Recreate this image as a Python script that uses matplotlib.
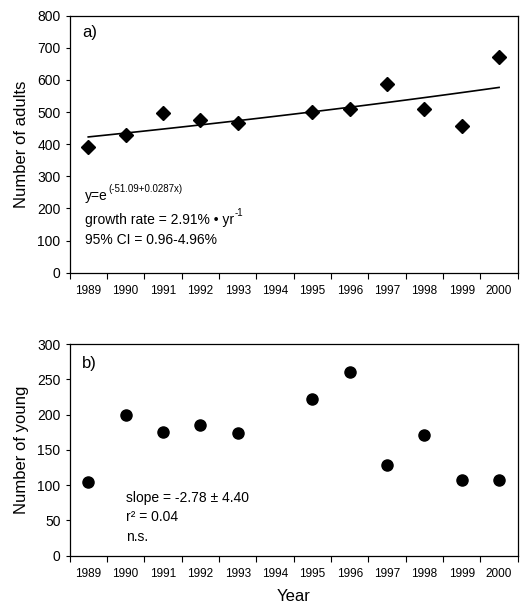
import numpy as np
import matplotlib
matplotlib.use("Agg")
import matplotlib.pyplot as plt

plt.rcParams['font.family'] = ['Liberation Sans', 'DejaVu Sans']

# x axis categories (1994 has no data)
year_labels = ['1989', '1990', '1991', '1992', '1993', '1994',
               '1995', '1996', '1997', '1998', '1999', '2000']
years = [1989, 1990, 1991, 1992, 1993, 1995, 1996, 1997, 1998, 1999, 2000]

adults = [392, 429, 496, 474, 465, 500, 511, 586, 509, 458, 673]
young = [104, 200, 176, 186, 174, 222, 261, 128, 171, 108, 108]

x = np.array(years) - 1989  # bin index on the category axis

# exponential fit of the adults, done in log space
b, a = np.polyfit(x, np.log(adults), 1)
x_fit = np.linspace(x[0], x[-1], 50)
y_fit = np.exp(a + b * x_fit)

fig = plt.figure(figsize=(5.23, 6.06), dpi=100)
ax1 = fig.add_axes([0.133, 0.550, 0.857, 0.424])
ax2 = fig.add_axes([0.133, 0.083, 0.857, 0.349])


def style_axis(ax):
    ax.set_xlim(-0.5, 11.5)
    ax.set_xticks(np.arange(-0.5, 12, 1))
    ax.set_xticklabels([])
    ax.set_xticks(np.arange(12), minor=True)
    ax.set_xticklabels(year_labels, minor=True, fontsize=8.5)
    ax.tick_params(axis='x', which='major', direction='out', length=4, width=0.8)
    ax.tick_params(axis='x', which='minor', length=0, pad=9)
    ax.tick_params(axis='y', direction='out', length=3, width=0.8, labelsize=10)
    for s in ax.spines.values():
        s.set_linewidth(0.9)


def with_sup(ax, xpos, ypos, base, sup):
    # base text plus a small raised part, plain hyphens kept
    t = ax.text(xpos, ypos, base, transform=ax.transAxes, fontsize=10, va='center')
    ax.annotate(sup, xy=(1.0, 0.62), xycoords=t, xytext=(0.3, 0),
                textcoords='offset points', fontsize=7, va='bottom', ha='left')


# a) adults
ax1.plot(x, adults, 'D', color='black', markersize=7.5, zorder=3)
ax1.plot(x_fit, y_fit, color='black', linewidth=1.2)
ax1.set_ylim(0, 800)
ax1.set_yticks(range(0, 801, 100))
ax1.set_ylabel('Number of adults', fontsize=12, labelpad=6)
style_axis(ax1)
ax1.text(0.028, 0.935, 'a)', transform=ax1.transAxes, fontsize=12, va='center')
with_sup(ax1, 0.035, 0.300, 'y=e', '(-51.09+0.0287x)')
with_sup(ax1, 0.035, 0.205, 'growth rate = 2.91% • yr', '-1')
ax1.text(0.035, 0.127, '95% CI = 0.96-4.96%', transform=ax1.transAxes,
         fontsize=10, va='center')

# b) young
ax2.plot(x, young, 'o', color='black', markersize=8, zorder=3)
ax2.set_ylim(0, 300)
ax2.set_yticks(range(0, 301, 50))
ax2.set_ylabel('Number of young', fontsize=12, labelpad=6)
ax2.set_xlabel('Year', fontsize=12, labelpad=6)
style_axis(ax2)
ax2.text(0.028, 0.91, 'b)', transform=ax2.transAxes, fontsize=12, va='center')
ax2.text(0.125, 0.273, 'slope = -2.78 ± 4.40', transform=ax2.transAxes,
         fontsize=10, va='center')
ax2.text(0.125, 0.185, 'r² = 0.04', transform=ax2.transAxes,
         fontsize=10, va='center')
ax2.text(0.125, 0.09, 'n.s.', transform=ax2.transAxes,
         fontsize=10, va='center')

fig.savefig('out.png', dpi=100)
